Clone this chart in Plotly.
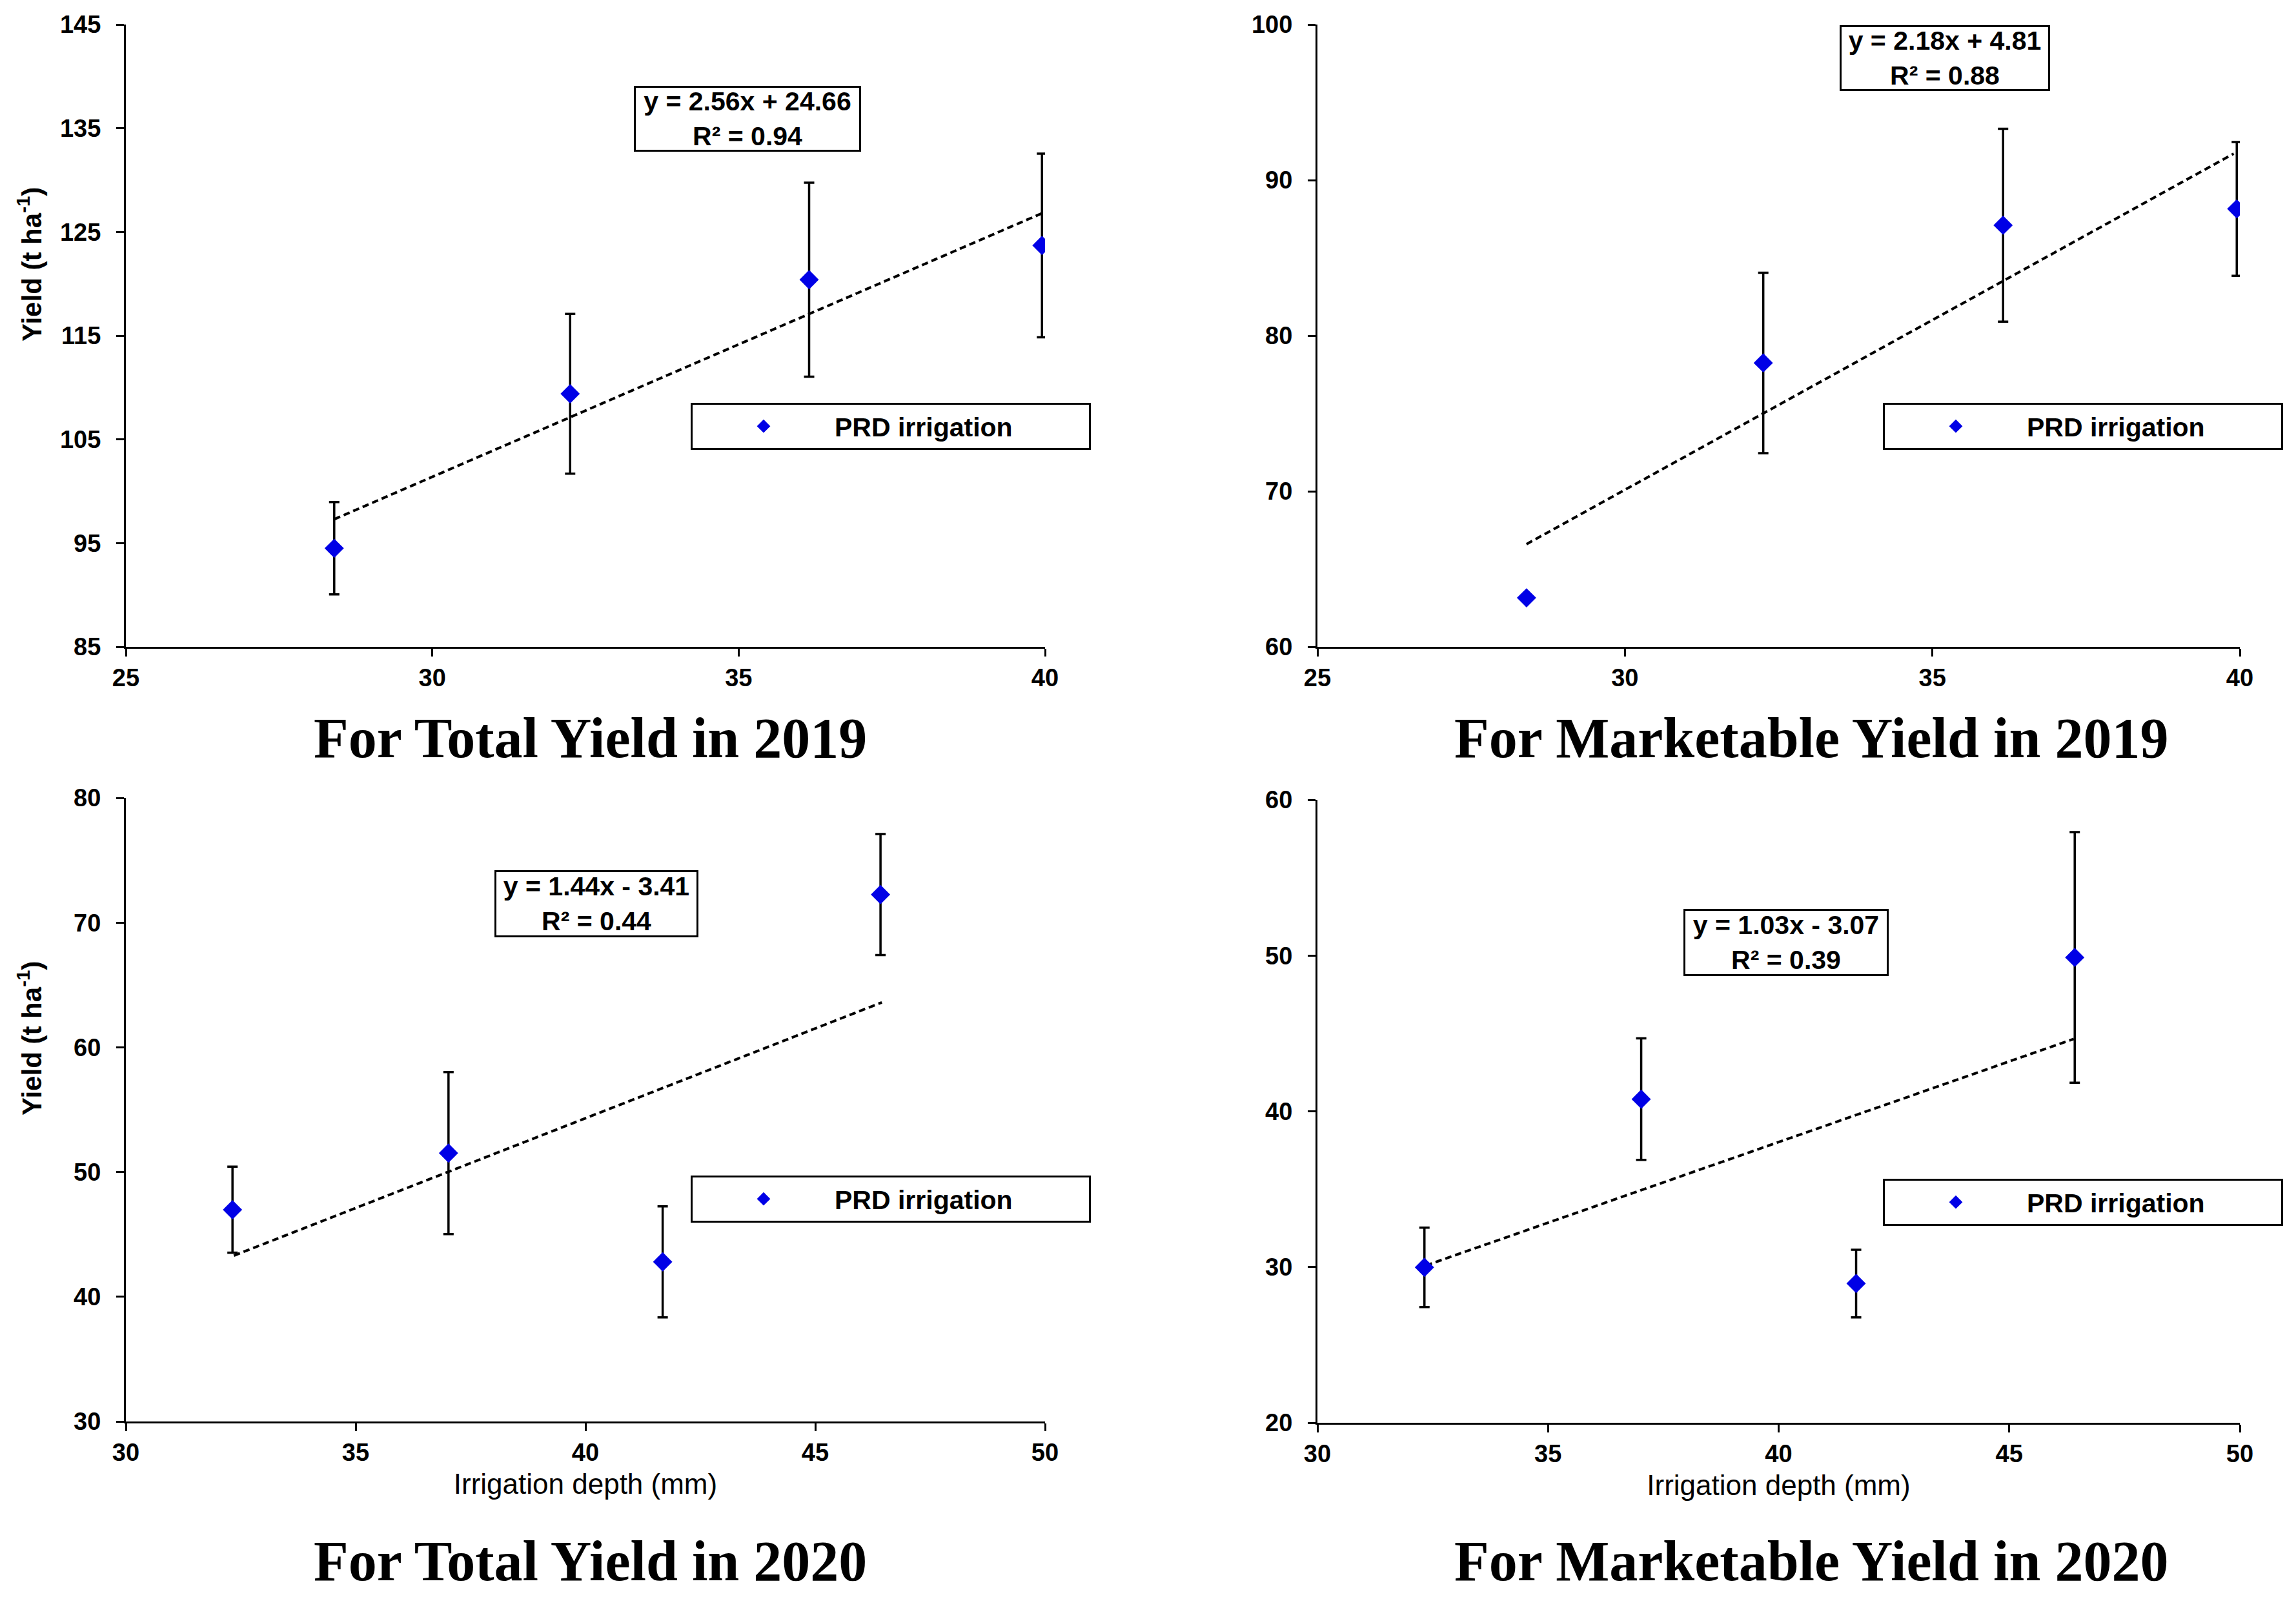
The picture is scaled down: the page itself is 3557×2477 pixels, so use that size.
import plotly.graph_objects as go

# irrigation depth (mm)
depth_2019 = [28.4, 32.25, 36.15, 39.95]
depth_2020 = [32.32, 37.02, 41.68, 46.42]

# yields (t/ha) and error bar half-lengths
total_2019 = [94.5, 109.4, 120.4, 123.7]
total_2019_err = [4.45, 7.7, 9.35, 8.85]
market_2019 = [63.15, 78.25, 87.1, 88.15]
market_2019_err = [0, 5.8, 6.2, 4.3]
total_2020 = [46.98, 51.52, 42.8, 72.25]
total_2020_err = [3.45, 6.5, 4.45, 4.85]
market_2020 = [29.98, 40.78, 28.94, 49.88]
market_2020_err = [2.55, 3.9, 2.17, 8.05]

# linear trend line end points
trend_total_2019_x = [28.4, 39.95]
trend_total_2019_y = [97.3, 126.8]
trend_market_2019_x = [28.4, 39.9]
trend_market_2019_y = [66.6, 91.7]
trend_total_2020_x = [32.35, 46.45]
trend_total_2020_y = [43.3, 63.6]
trend_market_2020_x = [32.35, 46.4]
trend_market_2020_y = [30.1, 44.65]

equations = ["y = 2.56x + 24.66<br>R² = 0.94",
             "y = 2.18x + 4.81<br>R² = 0.88",
             "y = 1.44x - 3.41<br>R² = 0.44",
             "y = 1.03x - 3.07<br>R² = 0.39"]
subtitles = ["For Total Yield in 2019", "For Marketable Yield in 2019",
             "For Total Yield in 2020", "For Marketable Yield in 2020"]

W, H = 3557, 2477
SANS = "Liberation Sans, Arial, sans-serif"
SERIF = "Liberation Serif, Times New Roman, serif"
BLUE = "#0000E6"

panels = [
    dict(x=depth_2019, y=total_2019, err=total_2019_err, tx=trend_total_2019_x, ty=trend_total_2019_y,
         xr=[25, 40], yr=[85, 145], xd=[195, 1619], yd=[38, 1002]),
    dict(x=depth_2019, y=market_2019, err=market_2019_err, tx=trend_market_2019_x, ty=trend_market_2019_y,
         xr=[25, 40], yr=[60, 100], xd=[2041, 3470], yd=[38, 1002]),
    dict(x=depth_2020, y=total_2020, err=total_2020_err, tx=trend_total_2020_x, ty=trend_total_2020_y,
         xr=[30, 50], yr=[30, 80], xd=[195, 1619], yd=[1236, 2202]),
    dict(x=depth_2020, y=market_2020, err=market_2020_err, tx=trend_market_2020_x, ty=trend_market_2020_y,
         xr=[30, 50], yr=[20, 60], xd=[2041, 3470], yd=[1239, 2204]),
]

# pixel placement of boxes / texts
eq_pos = [(1158, 184, 352, 102), (3013, 90, 326, 102), (924, 1400, 316, 104), (2767, 1460, 318, 104)]
legend_pos = [(1070, 624), (2917, 624), (1070, 1821), (2917, 1826)]
sub_pos = [(914, 1143), (2806, 1143), (914, 2418), (2806, 2418)]
ytitle_pos = [(46, 410), (46, 1609)]

fig = go.Figure()
layout = dict(width=W, height=H, margin=dict(l=0, r=0, t=0, b=0, autoexpand=False),
              paper_bgcolor="white", plot_bgcolor="white",
              font=dict(family=SANS, color="black"), annotations=[])

for i, p in enumerate(panels):
    n = "" if i == 0 else str(i + 1)
    leg = "legend" if i == 0 else "legend" + str(i + 1)
    fig.add_trace(go.Scatter(
        x=p["tx"], y=p["ty"], mode="lines", showlegend=False,
        line=dict(color="black", width=4, dash="10px,6px"),
        xaxis="x" + n, yaxis="y" + n))
    fig.add_trace(go.Scatter(
        x=p["x"], y=p["y"], mode="markers", name="PRD irrigation", legend=leg,
        marker=dict(symbol="diamond", size=23, color=BLUE),
        error_y=dict(type="data", array=p["err"], visible=True, color="black", thickness=3.5, width=8),
        xaxis="x" + n, yaxis="y" + n))

    ax = dict(range=p["xr"], tick0=p["xr"][0], dtick=5, showgrid=False, zeroline=False, showline=True,
              linecolor="black", linewidth=3, ticks="outside", ticklen=12, tickwidth=3,
              tickcolor="black", tickfont=dict(size=38, weight="bold"),
              domain=[p["xd"][0] / W, p["xd"][1] / W],
              anchor="y" + n)
    if i >= 2:
        ax["title"] = dict(text="Irrigation depth (mm)", font=dict(size=44), standoff=14)
    ay = dict(range=p["yr"], tick0=p["yr"][0], dtick=10, showgrid=False, zeroline=False, showline=True,
              linecolor="black", linewidth=3, ticks="outside", ticklen=12, tickwidth=3,
              tickcolor="black", tickfont=dict(size=38, weight="bold"), ticklabelstandoff=16,
              domain=[1 - p["yd"][1] / H, 1 - p["yd"][0] / H],
              anchor="x" + n)
    layout["xaxis" + n] = ax
    layout["yaxis" + n] = ay

    lx, ly = legend_pos[i]
    layout[leg] = dict(x=lx / W, y=1 - ly / H, xanchor="left", yanchor="top",
                       orientation="h", entrywidth=389, itemwidth=210,
                       bordercolor="black", borderwidth=3, bgcolor="white",
                       font=dict(size=41, weight="bold", color="black"))

    ex, ey, ew, eh = eq_pos[i]
    layout["annotations"].append(dict(
        text="<b>" + equations[i] + "</b>", xref="paper", yref="paper",
        x=ex / W, y=1 - ey / H, xanchor="center", yanchor="middle", showarrow=False,
        align="center", width=ew - 14, height=eh - 14, borderpad=4,
        bordercolor="black", borderwidth=3, bgcolor="white",
        font=dict(size=41, family=SANS, color="black")))

    sx, sy = sub_pos[i]
    layout["annotations"].append(dict(
        text="<b>" + subtitles[i] + "</b>", xref="paper", yref="paper",
        x=sx / W, y=1 - sy / H, xanchor="center", yanchor="middle", showarrow=False,
        font=dict(size=88, family=SERIF, color="black")))

for tx, ty in ytitle_pos:
    layout["annotations"].append(dict(
        text="<b>Yield (t ha<sup>-1</sup>)</b>", xref="paper", yref="paper",
        x=tx / W, y=1 - ty / H, xanchor="center", yanchor="middle", showarrow=False,
        textangle=-90, font=dict(size=42, family=SANS, color="black")))

fig.update_layout(**layout)
fig.write_html("out.html", config={"displayModeBar": False},
               post_script="document.body.style.margin='0';")
